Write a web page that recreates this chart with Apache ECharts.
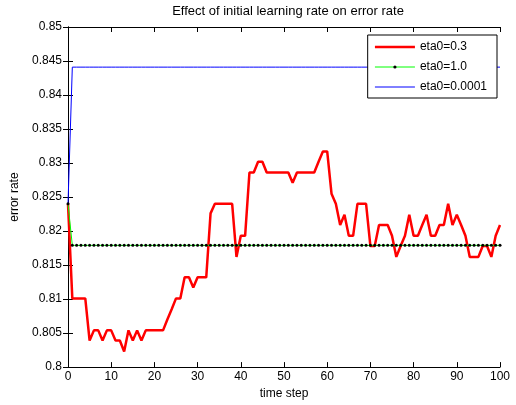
<!DOCTYPE html>
<html>
<head>
<meta charset="utf-8">
<script src="https://cdn.jsdelivr.net/npm/echarts@6/dist/echarts.min.js"></script>
<style>html,body{margin:0;padding:0;background:#fff}#c{width:516px;height:405px}</style>
</head>
<body>
<div id="c"></div>
<script>
var xTicks = [0,10,20,30,40,50,60,70,80,90,100];
var yTicks = [0.8,0.805,0.81,0.815,0.82,0.825,0.83,0.835,0.84,0.845,0.85];
var seriesNames = ['eta0=0.3','eta0=1.0','eta0=0.0001'];
var eta03 = [0.824,0.8101,0.8101,0.8101,0.8101,0.8039,0.8054,0.8054,0.8039,0.8054,
0.8054,0.8039,0.8039,0.8023,0.8054,0.8039,0.8054,0.8039,0.8054,0.8054,
0.8054,0.8054,0.8054,0.8070,0.8085,0.8101,0.8101,0.8132,0.8132,0.8117,
0.8132,0.8132,0.8132,0.8226,0.8240,0.8240,0.8240,0.8240,0.8240,0.8162,
0.8193,0.8193,0.8286,0.8286,0.8302,0.8302,0.8286,0.8286,0.8286,0.8286,
0.8286,0.8286,0.8271,0.8286,0.8286,0.8286,0.8286,0.8286,0.8302,0.8317,
0.8317,0.8255,0.8240,0.8209,0.8224,0.8193,0.8193,0.8240,0.8240,0.8240,
0.8178,0.8178,0.8209,0.8209,0.8209,0.8193,0.8162,0.8178,0.8193,0.8224,
0.8193,0.8193,0.8209,0.8224,0.8193,0.8193,0.8209,0.8209,0.8240,0.8209,
0.8224,0.8209,0.8193,0.8162,0.8162,0.8162,0.8178,0.8178,0.8162,0.8193,
0.8209];
var eta10 = [0.824,0.8179,0.8179,0.8179,0.8179,0.8179,0.8179,0.8179,0.8179,0.8179,
0.8179,0.8179,0.8179,0.8179,0.8179,0.8179,0.8179,0.8179,0.8179,0.8179,
0.8179,0.8179,0.8179,0.8179,0.8179,0.8179,0.8179,0.8179,0.8179,0.8179,
0.8179,0.8179,0.8179,0.8179,0.8179,0.8179,0.8179,0.8179,0.8179,0.8179,
0.8179,0.8179,0.8179,0.8179,0.8179,0.8179,0.8179,0.8179,0.8179,0.8179,
0.8179,0.8179,0.8179,0.8179,0.8179,0.8179,0.8179,0.8179,0.8179,0.8179,
0.8179,0.8179,0.8179,0.8179,0.8179,0.8179,0.8179,0.8179,0.8179,0.8179,
0.8179,0.8179,0.8179,0.8179,0.8179,0.8179,0.8179,0.8179,0.8179,0.8179,
0.8179,0.8179,0.8179,0.8179,0.8179,0.8179,0.8179,0.8179,0.8179,0.8179,
0.8179,0.8179,0.8179,0.8179,0.8179,0.8179,0.8179,0.8179,0.8179,0.8179,
0.8179];
var eta00001 = [0.824,0.8441,0.8441,0.8441,0.8441,0.8441,0.8441,0.8441,0.8441,0.8441,
0.8441,0.8441,0.8441,0.8441,0.8441,0.8441,0.8441,0.8441,0.8441,0.8441,
0.8441,0.8441,0.8441,0.8441,0.8441,0.8441,0.8441,0.8441,0.8441,0.8441,
0.8441,0.8441,0.8441,0.8441,0.8441,0.8441,0.8441,0.8441,0.8441,0.8441,
0.8441,0.8441,0.8441,0.8441,0.8441,0.8441,0.8441,0.8441,0.8441,0.8441,
0.8441,0.8441,0.8441,0.8441,0.8441,0.8441,0.8441,0.8441,0.8441,0.8441,
0.8441,0.8441,0.8441,0.8441,0.8441,0.8441,0.8441,0.8441,0.8441,0.8441,
0.8441,0.8441,0.8441,0.8441,0.8441,0.8441,0.8441,0.8441,0.8441,0.8441,
0.8441,0.8441,0.8441,0.8441,0.8441,0.8441,0.8441,0.8441,0.8441,0.8441,
0.8441,0.8441,0.8441,0.8441,0.8441,0.8441,0.8441,0.8441,0.8441,0.8441,
0.8441];

function pairs(arr){ return arr.map(function(v,i){ return [i, v]; }); }

var FONT = 'Liberation Sans, Arial, sans-serif';
var chart = echarts.init(document.getElementById('c'), null, {renderer:'canvas'});
var axisLineStyle = {show:true, lineStyle:{color:'#000', width:1}};
var tickStyle = {show:true, inside:true, length:5, lineStyle:{color:'#000'}};
var option = {
  backgroundColor:'#fff',
  animation:false,
  title:{text:'Effect of initial learning rate on error rate', left:283, textAlign:'center', top:0,
    textStyle:{fontFamily:FONT, fontSize:13, fontWeight:'normal', color:'#000'}},
  grid:{left:68, right:16, top:27, bottom:36, containLabel:false},
  legend:{
    orient:'vertical', right:19, top:35,
    data:[
      {name:seriesNames[0], itemStyle:{opacity:0}, lineStyle:{width:2.5}},
      {name:seriesNames[1], itemStyle:{color:'#000', opacity:1}, lineStyle:{width:1}},
      {name:seriesNames[2], itemStyle:{opacity:0}, lineStyle:{width:1}}
    ],
    backgroundColor:'#fff', borderColor:'#000', borderWidth:1,
    padding:[6,10,5,6], itemGap:8, itemWidth:40, itemHeight:4,
    textStyle:{fontFamily:FONT, fontSize:12, color:'#000'}
  },
  xAxis:[
    {type:'value', min:xTicks[0], max:xTicks[xTicks.length-1], interval:10, position:'bottom',
     axisLine:axisLineStyle, axisTick:tickStyle, splitLine:{show:false},
     axisLabel:{color:'#000', fontFamily:FONT, fontSize:12, margin:4},
     name:'time step', nameLocation:'middle', nameGap:20,
     nameTextStyle:{fontFamily:FONT, fontSize:12, color:'#000'}},
    {type:'value', min:0, max:100, interval:10, position:'top',
     axisLine:axisLineStyle, axisTick:tickStyle, splitLine:{show:false}, axisLabel:{show:false}}
  ],
  yAxis:[
    {type:'value', min:yTicks[0], max:yTicks[yTicks.length-1], interval:0.005, position:'left',
     axisLine:axisLineStyle, axisTick:tickStyle, splitLine:{show:false},
     axisLabel:{color:'#000', fontFamily:FONT, fontSize:12, margin:6,
       formatter:function(v){ return String(+v.toFixed(3)); }},
     name:'error rate', nameLocation:'middle', nameGap:39,
     nameTextStyle:{fontFamily:FONT, fontSize:12, color:'#000'}},
    {type:'value', min:0.8, max:0.85, interval:0.005, position:'right',
     axisLine:axisLineStyle, axisTick:tickStyle, splitLine:{show:false}, axisLabel:{show:false}}
  ],
  series:[
    {name:seriesNames[0], type:'line', data:pairs(eta03), symbol:'none',
     lineStyle:{color:'#ff0000', width:2.5}, itemStyle:{color:'#ff0000'}},
    {name:seriesNames[1], type:'line', data:pairs(eta10), symbol:'circle', symbolSize:3, showAllSymbol:true,
     lineStyle:{color:'#00ff00', width:1}, itemStyle:{color:'#000'}},
    {name:seriesNames[2], type:'line', data:pairs(eta00001), symbol:'none',
     lineStyle:{color:'#0000ff', width:1}, itemStyle:{color:'#0000ff'}}
  ]
};
chart.setOption(option);
</script>
</body>
</html>
